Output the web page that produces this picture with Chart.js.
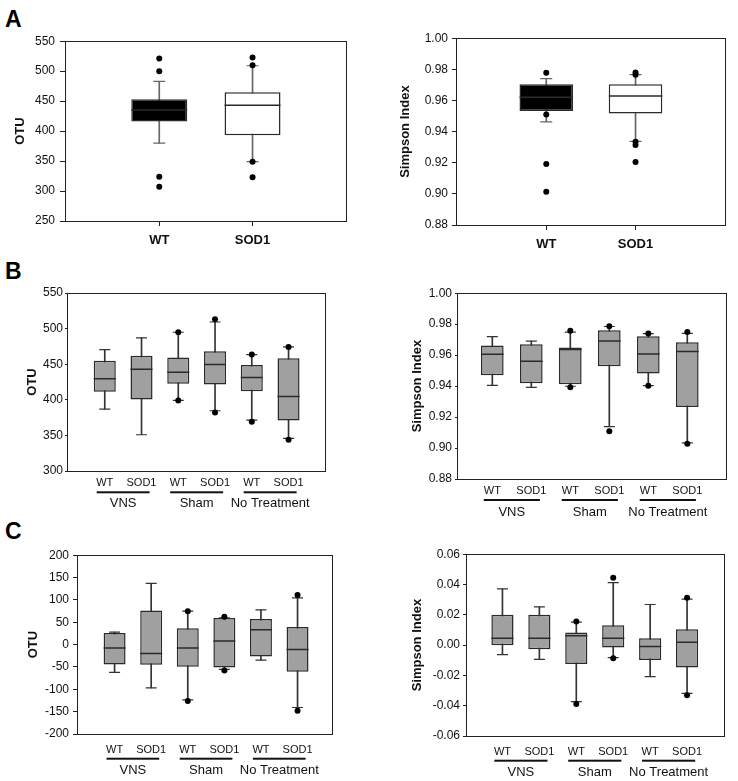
<!DOCTYPE html>
<html>
<head>
<meta charset="utf-8">
<script src="https://cdn.jsdelivr.net/npm/chart.js@4.4.0/dist/chart.umd.min.js"></script>
<style>
  body { margin: 0; width: 738px; height: 781px; background: #fff; position: relative; overflow: hidden; font-family: "Liberation Sans", Arial, sans-serif; }
  canvas { position: absolute; }
  .tag { position: absolute; left: 5px; font-weight: bold; font-size: 23px; line-height: 22px; color: #000; }
</style>
</head>
<body>
<div class="tag" style="top:8px">A</div>
<div class="tag" style="top:260px">B</div>
<div class="tag" style="top:520px">C</div>
<canvas id="aOtu"></canvas>
<canvas id="aSimpson"></canvas>
<canvas id="bOtu"></canvas>
<canvas id="bSimpson"></canvas>
<canvas id="cOtu"></canvas>
<canvas id="cSimpson"></canvas>
<script>
//// categories
const genotypeA = ['WT', 'SOD1'];
const genotypeBC = ['WT', 'SOD1', 'WT', 'SOD1', 'WT', 'SOD1'];
const treatments = ['VNS', 'Sham', 'No Treatment'];

//// A - OTU (whisker low, q1, median, q3, whisker high, outliers)
const aOtuLow = [380, 349];
const aOtuQ1 = [416, 393];
const aOtuMed = [435, 443];
const aOtuQ3 = [453, 465];
const aOtuHigh = [483, 509];
const aOtuOut = [[521, 500, 324, 307], [523, 510, 349, 323]];

//// A - Simpson
const aSimLow = [0.9463, 0.9337];
const aSimQ1 = [0.9533, 0.9516];
const aSimMed = [0.962, 0.9629];
const aSimQ3 = [0.9704, 0.9704];
const aSimHigh = [0.974, 0.9766];
const aSimOut = [[0.9778, 0.951, 0.9192, 0.9013], [0.978, 0.9766, 0.9335, 0.9314, 0.9205]];

//// B - OTU
const bOtuLow = [386.9, 350.9, 399.1, 384.6, 371.5, 345.8];
const bOtuQ1 = [411.2, 400.5, 422.4, 421.5, 412.1, 371];
const bOtuMed = [429.4, 443, 438.8, 449.5, 431.3, 404.7];
const bOtuQ3 = [454.7, 461.7, 459.3, 468.2, 449, 458.4];
const bOtuHigh = [470.6, 486.9, 494.9, 509.3, 463.5, 474.3];
const bOtuOut = [[], [], [494.9, 399], [513, 382], [463.5, 369], [474.3, 344]];

//// B - Simpson
const bSimLow = [0.9405, 0.9392, 0.9399, 0.9138, 0.9403, 0.9033];
const bSimQ1 = [0.947, 0.9418, 0.9412, 0.9528, 0.9481, 0.9265];
const bSimMed = [0.9606, 0.956, 0.9636, 0.9692, 0.9608, 0.9623];
const bSimQ3 = [0.9662, 0.967, 0.9649, 0.9761, 0.9722, 0.9683];
const bSimHigh = [0.972, 0.969, 0.9748, 0.9785, 0.9739, 0.9741];
const bSimOut = [[], [], [0.9757, 0.9392], [0.9787, 0.9108], [0.9739, 0.9403], [0.975, 0.9028]];

//// C - OTU
const cOtuLow = [-62.2, -97, -123.7, -55.5, -34.8, -140.7];
const cOtuQ1 = [-44.4, -45.2, -49.6, -51, -26.7, -60.7];
const cOtuMed = [-7.4, -20, -7.4, 8.1, 33.3, -11.1];
const cOtuQ3 = [25.9, 76.3, 36.3, 59.3, 57, 39.3];
const cOtuHigh = [28, 137, 74.8, 60, 77.8, 104.4];
const cOtuOut = [[], [], [74.8, -126], [62.2, -57.8], [], [111, -148]];

//// C - Simpson
const cSimLow = [-0.0063, -0.0094, -0.0373, -0.0083, -0.0208, -0.0318];
const cSimQ1 = [-0.0001, -0.0027, -0.0124, -0.0016, -0.0098, -0.0148];
const cSimMed = [0.0045, 0.0045, 0.0061, 0.0045, -0.001, 0.0019];
const cSimQ3 = [0.0201, 0.0201, 0.0083, 0.0131, 0.0045, 0.0105];
const cSimHigh = [0.0371, 0.0252, 0.0151, 0.0413, 0.0268, 0.0303];
const cSimOut = [[], [], [0.0155, -0.0389], [0.0444, -0.0087], [], [0.0312, -0.0331]];

const FONT = '"Liberation Sans", Arial, sans-serif';
Chart.defaults.font.family = FONT;
Chart.defaults.color = '#111';
Chart.defaults.animation = false;

// frame round the plot + group underlines / names under the x axis
const framePlugin = {
  id: 'frame',
  afterDraw(chart, args, opts) {
    const ctx = chart.ctx;
    const { left, top, right, bottom } = chart.chartArea;
    ctx.save();
    ctx.strokeStyle = '#222';
    ctx.lineWidth = 1;
    ctx.strokeRect(Math.round(left) - 0.5, Math.round(top) + 0.5, Math.round(right - left) + 1, Math.round(bottom - top));
    if (opts.groups) {
      const x = chart.scales.x;
      ctx.fillStyle = '#111';
      ctx.font = '13px ' + FONT;
      ctx.textAlign = 'center';
      ctx.textBaseline = 'middle';
      opts.groups.forEach((name, g) => {
        const p1 = 2 * g + 1, p2 = 2 * g + 2;
        const x1 = x.getPixelForValue(p1 - 0.22);
        const x2 = x.getPixelForValue(p2 + 0.22);
        ctx.fillRect(x1, bottom + opts.lineOff - 1, x2 - x1, 2);
        ctx.fillText(name, (x.getPixelForValue(p1) + x.getPixelForValue(p2)) / 2, bottom + opts.textOff);
      });
    }
    ctx.restore();
  }
};

function boxChart(id, p, low, q1, med, q3, high, outliers) {
  const pos = p.labels.map((_, i) => i + 1);
  const el = document.getElementById(id);
  const cLeft = Math.round(p.titleX - 8);
  const cTop = p.plot[1] - 10;
  const w = p.plot[2] + 6 - cLeft;
  const h = Math.min(781, p.plot[3] + 46) - cTop;
  el.width = w; el.height = h;
  el.style.left = cLeft + 'px'; el.style.top = cTop + 'px';
  const yW = p.plot[0] - cLeft;
  const xH = h - (p.plot[3] - cTop);
  const halfBox = c => {
    const s = c.chart.scales.x;
    return s.getPixelForValue(1 + p.boxW / 2) - s.getPixelForValue(1);
  };

  new Chart(el, {
    type: 'bar',
    data: {
      datasets: [
        {
          label: 'whisker',
          data: pos.map((x, i) => ({ x, y: [low[i], high[i]] })),
          backgroundColor: p.whisker,
          barThickness: 1,
          grouped: false,
          order: 4
        },
        {
          label: 'box',
          data: pos.map((x, i) => ({ x, y: [q1[i], q3[i]] })),
          backgroundColor: p.fill,
          borderColor: '#2a2a2a',
          borderWidth: 1.5,
          borderSkipped: false,
          grouped: false,
          categoryPercentage: 1,
          barPercentage: p.boxW,
          order: 3
        },
        {
          type: 'scatter',
          label: 'caps',
          data: pos.map((x, i) => ({ x, y: low[i] })).concat(pos.map((x, i) => ({ x, y: high[i] }))),
          showLine: false,
          pointStyle: 'line',
          pointRadius: p.capR,
          borderColor: p.whisker,
          borderWidth: 1.2,
          order: 2
        },
        {
          type: 'scatter',
          label: 'median',
          data: pos.map((x, i) => ({ x, y: med[i] })),
          showLine: false,
          pointStyle: 'line',
          pointRadius: halfBox,
          borderColor: '#2a2a2a',
          borderWidth: 1.5,
          order: 1
        },
        {
          type: 'scatter',
          label: 'outliers',
          data: outliers.flatMap((arr, i) => arr.map(v => ({ x: pos[i], y: v }))),
          showLine: false,
          pointStyle: 'circle',
          pointRadius: 3,
          backgroundColor: '#000',
          borderColor: '#000',
          borderWidth: 0,
          order: 0
        }
      ]
    },
    options: {
      responsive: false,
      events: [],
      layout: { padding: { left: 0, top: 10, right: 6, bottom: 0 } },
      plugins: {
        legend: { display: false },
        tooltip: { enabled: false },
        frame: { groups: p.groups, lineOff: p.lineOff, textOff: p.textOff }
      },
      scales: {
        x: {
          type: 'linear',
          offset: false,
          min: p.xMin,
          max: p.xMax,
          afterFit: s => { s.height = xH; },
          grid: {
            drawOnChartArea: false,
            offset: false,
            drawTicks: p.xTicks,
            tickLength: 5,
            tickColor: c => (c.tick && c.tick.value >= 1 && c.tick.value <= pos.length) ? '#222' : 'rgba(0,0,0,0)'
          },
          border: { display: false },
          ticks: {
            stepSize: 1,
            includeBounds: false,
            autoSkip: false,
            maxRotation: 0,
            padding: p.xPad,
            color: '#111',
            font: p.xFont,
            callback: v => (Number.isInteger(v) && v >= 1 && v <= pos.length) ? p.labels[v - 1] : ''
          }
        },
        y: {
          min: p.yMin,
          max: p.yMax,
          afterFit: s => { s.width = yW; },
          grid: { drawOnChartArea: false, drawTicks: true, tickLength: p.yTick, tickColor: '#222' },
          border: { display: false },
          title: {
            display: true,
            text: p.yTitle,
            padding: 0,
            color: '#111',
            font: { size: 13, weight: 'bold' }
          },
          ticks: {
            stepSize: p.yStep,
            padding: p.yPad,
            color: '#111',
            font: { size: 12 },
            callback: v => {
              const n = Math.abs(v) < 1e-9 ? 0 : v;
              return n.toFixed(p.dec);
            }
          }
        }
      }
    },
    plugins: [framePlugin]
  });
}

const boldX = { size: 13, weight: 'bold' };
const plainX = { size: 11 };

boxChart('aOtu', {
  plot: [66, 39, 347, 221], titleX: 20.5, labels: genotypeA, xMin: 0, xMax: 3,
  xFont: boldX, xPad: 7, xTicks: true, yMin: 250, yMax: 550, yStep: 50, dec: 0,
  yTick: 6, yPad: 5, yTitle: 'OTU', fill: ['#000', '#fff'], whisker: '#666', boxW: 0.6, capR: 6
}, aOtuLow, aOtuQ1, aOtuMed, aOtuQ3, aOtuHigh, aOtuOut);

boxChart('aSimpson', {
  plot: [457, 37, 726, 225], titleX: 406, labels: genotypeA, xMin: 0, xMax: 3,
  xFont: boldX, xPad: 7, xTicks: true, yMin: 0.88, yMax: 1.00, yStep: 0.02, dec: 2,
  yTick: 5, yPad: 4, yTitle: 'Simpson Index', fill: ['#000', '#fff'], whisker: '#666', boxW: 0.6, capR: 6
}, aSimLow, aSimQ1, aSimMed, aSimQ3, aSimHigh, aSimOut);

boxChart('bOtu', {
  plot: [68, 293, 326, 471], titleX: 33, labels: genotypeBC, xMin: 0, xMax: 7,
  xFont: plainX, xPad: 5, xTicks: false, groups: treatments, lineOff: 21.3, textOff: 32.5,
  yMin: 300, yMax: 550, yStep: 50, dec: 0, yTick: 3, yPad: 2, yTitle: 'OTU',
  fill: '#a0a0a0', whisker: '#333', boxW: 0.6, capR: 5.5
}, bOtuLow, bOtuQ1, bOtuMed, bOtuQ3, bOtuHigh, bOtuOut);

boxChart('bSimpson', {
  plot: [458, 293, 727, 479], titleX: 417.5, labels: genotypeBC, xMin: 0.12, xMax: 7,
  xFont: plainX, xPad: 5, xTicks: false, groups: treatments, lineOff: 21, textOff: 33.5,
  yMin: 0.88, yMax: 1.00, yStep: 0.02, dec: 2, yTick: 3, yPad: 3, yTitle: 'Simpson Index',
  fill: '#a0a0a0', whisker: '#333', boxW: 0.58, capR: 5.5
}, bSimLow, bSimQ1, bSimMed, bSimQ3, bSimHigh, bSimOut);

boxChart('cOtu', {
  plot: [78, 554, 333, 734], titleX: 33.5, labels: genotypeBC, xMin: 0, xMax: 6.95,
  xFont: plainX, xPad: 9, xTicks: false, groups: treatments, lineOff: 24.7, textOff: 36,
  yMin: -200, yMax: 200, yStep: 50, dec: 0, yTick: 5, yPad: 4, yTitle: 'OTU',
  fill: '#a0a0a0', whisker: '#333', boxW: 0.6, capR: 5.5
}, cOtuLow, cOtuQ1, cOtuMed, cOtuQ3, cOtuHigh, cOtuOut);

boxChart('cSimpson', {
  plot: [467, 554, 727, 736], titleX: 417.5, labels: genotypeBC, xMin: 0.04, xMax: 7,
  xFont: plainX, xPad: 9, xTicks: false, groups: treatments, lineOff: 24.7, textOff: 36.5,
  yMin: -0.06, yMax: 0.06, yStep: 0.02, dec: 2, yTick: 4, yPad: 3, yTitle: 'Simpson Index',
  fill: '#a0a0a0', whisker: '#333', boxW: 0.6, capR: 5.5
}, cSimLow, cSimQ1, cSimMed, cSimQ3, cSimHigh, cSimOut);
</script>
</body>
</html>
